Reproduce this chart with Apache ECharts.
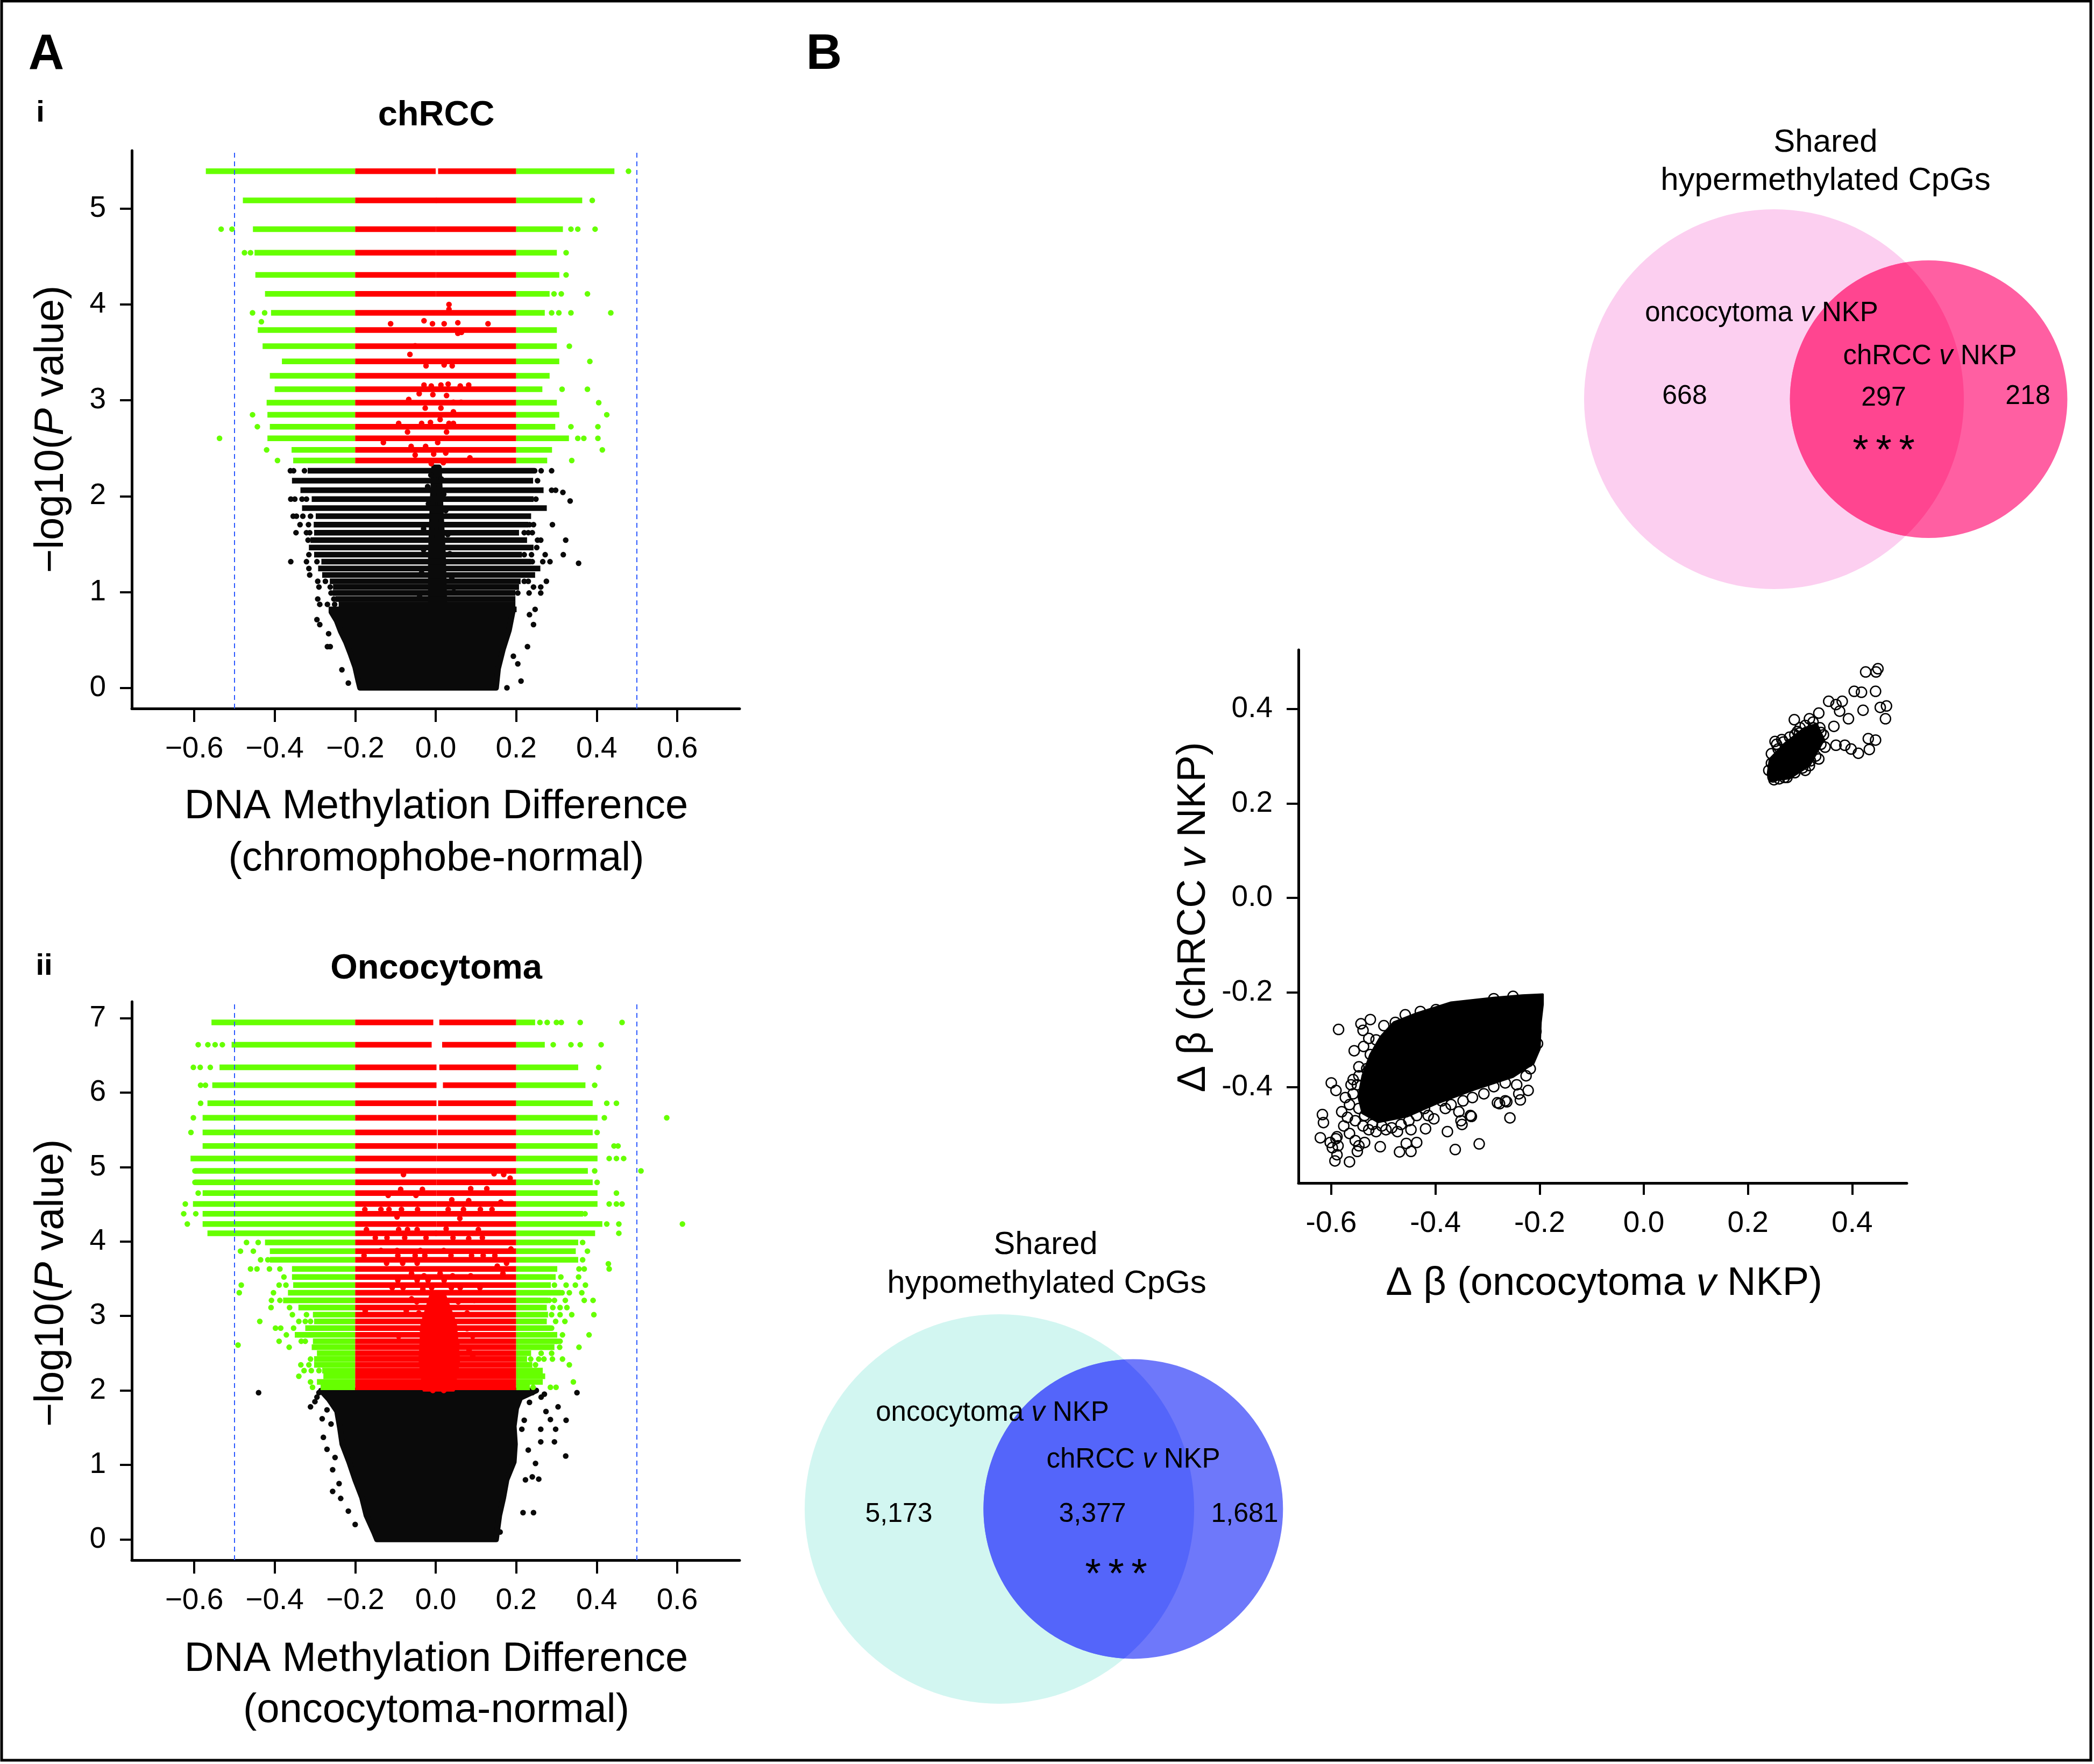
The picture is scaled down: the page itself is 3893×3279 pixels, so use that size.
<!DOCTYPE html>
<html><head><meta charset="utf-8">
<script src="https://cdn.jsdelivr.net/npm/echarts@6/dist/echarts.min.js"></script>
<style>html,body{margin:0;padding:0;background:#fff}#c{width:3893px;height:3279px}</style>
</head><body><div id="c"></div>
<script>
// ---------------- tick labels ----------------
const xTicksA = [-0.6, -0.4, -0.2, 0, 0.2, 0.4, 0.6];
const yTicksAi = [0, 1, 2, 3, 4, 5];
const yTicksAii = [0, 1, 2, 3, 4, 5, 6, 7];
const xTicksB = [-0.6, -0.4, -0.2, 0, 0.2, 0.4];
const yTicksB = [-0.4, -0.2, 0, 0.2, 0.4];
const dashedX = [-0.5, 0.5];
const cutoff = 0.2;

// ---------------- A(i) chRCC volcano ----------------
// [ -log10 P, leftmost x, rightmost x, centre gap start, centre gap end ]
const chrccBands = [
 [5.391,-0.564,0.437,-0.007,0.013],[5.087,-0.472,0.357,-0.005,0.008],[4.787,-0.447,0.309,-0.006,0.008],
 [4.541,-0.443,0.294,-0.006,0.008],[4.309,-0.441,0.300,-0.006,0.008],[4.111,-0.417,0.276,-0.006,0.008],
 [3.913,-0.402,0.264,null,null],[3.734,-0.435,0.294,null,null],[3.565,-0.423,0.294,null,null],
 [3.406,-0.375,0.300,null,null],[3.256,-0.405,0.276,null,null],[3.116,-0.393,0.258,null,null],
 [2.976,-0.413,0.294,null,null],[2.850,-0.411,0.300,null,null],[2.725,-0.405,0.290,null,null],
 [2.604,-0.411,0.324,null,null],[2.483,-0.351,0.282,null,null],[2.372,-0.347,0.270,null,null]
];
const chrccGreenOut = [[0.479,5.391],[0.389,5.087],[-0.533,4.787],[-0.506,4.787],[0.336,4.787],[0.353,4.787],[0.396,4.787],
 [-0.475,4.541],[-0.460,4.541],[0.324,4.541],[0.324,4.309],[0.294,4.111],[0.312,4.111],[0.377,4.111],[-0.455,3.913],
 [-0.425,3.913],[0.288,3.913],[0.306,3.913],[0.336,3.913],[0.435,3.913],[-0.433,3.82],[0.332,3.565],[0.383,3.406],
 [0.314,3.116],[0.377,3.116],[0.405,2.976],[-0.455,2.850],[0.425,2.850],[-0.443,2.725],[0.336,2.725],[0.403,2.725],
 [-0.537,2.604],[0.353,2.604],[0.368,2.604],[0.403,2.604],[-0.42,2.483],[0.414,2.483],[-0.393,2.372],[0.338,2.372]];
const chrccRedOut = [[0.033,4.00],[0.033,3.95],[-0.029,3.83],[-0.112,3.80],[-0.008,3.80],[0.021,3.80],[0.055,3.81],
 [0.130,3.80],[0.055,3.70],[0.064,3.71],[-0.064,3.48],[-0.051,3.57],[-0.024,3.36],[0.021,3.37],[0.041,3.36],
 [-0.029,3.16],[-0.011,3.15],[0.013,3.16],[0.031,3.17],[0.061,3.15],[0.082,3.16],[-0.067,3.01],[-0.041,3.07],
 [-0.007,3.06],[0.027,3.05],[0.044,2.98],[-0.026,2.92],[0.013,2.92],[0.044,2.88],[0.063,2.98],[-0.092,2.76],
 [-0.035,2.76],[-0.013,2.77],[0.011,2.80],[0.033,2.76],[0.044,2.76],[-0.07,2.67],[0.027,2.67],[-0.13,2.56],
 [-0.061,2.52],[-0.025,2.52],[0.005,2.56],[-0.051,2.43],[-0.005,2.44],[0.025,2.45],[0.085,2.40],[-0.011,2.34],[0.019,2.35]];
// [ -log10 P, leftmost x, rightmost x ]
const chrccBlackBands = [
 [2.265,-0.311,0.238],[2.162,-0.350,0.235],[2.062,-0.329,0.261],[1.969,-0.301,0.236],[1.875,-0.325,0.269],
 [1.791,-0.291,0.230],[1.703,-0.296,0.223],[1.619,-0.295,0.200],[1.541,-0.304,0.220],[1.464,-0.308,0.236],
 [1.389,-0.295,0.207],[1.316,-0.277,0.230],[1.245,-0.285,0.253],[1.178,-0.275,0.240],[1.112,-0.256,0.204],
 [1.052,-0.248,0.200],[0.989,-0.249,0.191],[0.927,-0.242,0.191],[0.871,-0.234,0.191],[0.819,-0.259,0.194]
];
const chrccBlackOut = [[-0.361,2.265],[-0.353,2.265],[-0.326,2.265],[0.246,2.265],[0.262,2.265],[0.288,2.265],[0.253,2.162],
 [0.288,2.062],[0.298,2.062],[0.316,2.04],[-0.360,1.969],[-0.350,1.969],[-0.332,1.969],[-0.321,1.969],[0.249,1.969],[0.334,1.95],
 [-0.354,1.791],[-0.346,1.791],[-0.330,1.791],[-0.311,1.791],[-0.337,1.703],[-0.316,1.703],[0.233,1.703],[0.243,1.703],[0.29,1.703],
 [-0.347,1.619],[-0.321,1.619],[-0.313,1.619],[0.22,1.619],[0.23,1.619],[0.24,1.619],[-0.317,1.541],[0.253,1.541],[0.261,1.541],
 [0.323,1.541],[0.251,1.464],[-0.315,1.389],[0.22,1.389],[0.238,1.389],[0.272,1.389],[0.317,1.389],[-0.36,1.316],[-0.321,1.316],
 [-0.295,1.316],[0.24,1.316],[0.266,1.316],[0.284,1.316],[0.355,1.30],[-0.315,1.245],[-0.313,1.178],[-0.293,1.112],[-0.274,1.112],
 [0.22,1.112],[0.23,1.112],[0.275,1.112],[-0.29,1.052],[-0.262,1.052],[0.243,1.052],[0.261,1.052],[-0.26,0.989],[0.204,0.989],
 [0.232,0.989],[0.261,0.989],[-0.293,0.927],[-0.253,0.927],[-0.288,0.871],[-0.269,0.871],[-0.251,0.871],[0.247,0.819],
 [-0.295,0.712],[-0.288,0.66],[-0.266,0.565],[-0.269,0.43],[-0.262,0.43],[-0.233,0.188],[-0.217,0.049],[0.228,0.43],
 [0.243,0.66],[0.233,0.763],[0.193,0.33],[0.204,0.25],[0.212,0.07],[0.177,0.0],
 [-0.012,2.22],[0.014,2.18],[-0.02,2.1],[0.02,2.02],[-0.018,1.92],[0.025,1.85],[-0.03,1.66],[0.03,1.6],[-0.03,1.44],
 [0.035,1.4],[-0.035,1.2],[0.04,1.15],[0.045,1.0],[-0.04,0.95]];
const chrccBlackCore = [[-0.259,0.79],[-0.246,0.70],[-0.236,0.59],[-0.223,0.478],[-0.211,0.347],[-0.2,0.216],
 [-0.192,0.067],[-0.188,0],[0.15,0],[0.155,0.2],[0.167,0.4],[0.182,0.6],[0.191,0.79]];
const chrccBlackSpine = [[-0.012,0.8],[-0.012,1.4],[-0.008,1.9],[-0.004,2.3],[0.008,2.3],[0.012,1.9],[0.018,1.4],[0.022,0.8]];

// ---------------- A(ii) Oncocytoma volcano ----------------
const oncoBands = [
 [6.942,-0.550,0.240,-0.013,0.016],[6.643,-0.500,0.264,-0.017,0.023],[6.338,-0.530,0.347,-0.005,0.016],
 [6.098,-0.548,0.365,-0.005,0.025],[5.857,-0.560,0.383,-0.005,0.013],[5.661,-0.572,0.395,-0.005,0.013],
 [5.465,-0.572,0.383,-0.004,0.012],[5.283,-0.572,0.395,-0.004,0.012],[5.115,-0.602,0.395,-0.005,0.009],
 [4.948,-0.590,0.371,-0.005,0.009],[4.795,-0.590,0.383,-0.005,0.009],[4.650,-0.572,0.395,-0.005,0.009],
 [4.504,-0.596,0.395,-0.005,0.009],[4.373,-0.572,0.359,-0.005,0.009],[4.235,-0.572,0.407,-0.005,0.009],
 [4.111,-0.560,0.389,-0.004,0.006],[3.988,-0.417,0.347,null,null],[3.871,-0.405,0.341,null,null],
 [3.755,-0.405,0.347,null,null],[3.632,-0.350,0.295,null,null],[3.524,-0.350,0.291,null,null],
 [3.415,-0.347,0.279,null,null],[3.312,-0.360,0.304,null,null],[3.210,-0.372,0.272,null,null],
 [3.114,-0.334,0.269,null,null],[3.018,-0.298,0.272,null,null],[2.927,-0.295,0.269,null,null],
 [2.837,-0.317,0.279,null,null],[2.746,-0.343,0.295,null,null],[2.661,-0.298,0.295,null,null],
 [2.580,-0.301,0.288,null,null],[2.500,-0.288,0.230,null,null],[2.421,-0.295,0.220,null,null],
 [2.344,-0.295,0.233,null,null],[2.266,-0.275,0.259,null,null],[2.191,-0.272,0.265,null,null],
 [2.114,-0.288,0.259,null,null],[2.042,-0.279,0.227,null,null]
];
const oncoGreenOut = [[0.259,6.942],[0.277,6.942],[0.300,6.942],[0.312,6.942],[0.359,6.942],[0.463,6.942],
 [-0.590,6.643],[-0.566,6.643],[-0.548,6.643],[-0.530,6.643],[0.292,6.643],[0.336,6.643],[0.359,6.643],[0.411,6.643],
 [-0.602,6.338],[-0.585,6.338],[-0.560,6.338],[0.405,6.338],[-0.584,6.098],[-0.572,6.098],[0.395,6.098],
 [-0.584,5.857],[0.425,5.857],[0.449,5.857],[-0.602,5.661],[0.419,5.661],[0.574,5.661],[-0.608,5.465],[0.401,5.465],
 [0.443,5.283],[0.453,5.283],[0.431,5.115],[0.449,5.115],[0.467,5.115],[-0.598,4.948],[0.395,4.948],[0.510,4.948],
 [-0.598,4.795],[0.401,4.795],[-0.590,4.650],[0.449,4.650],[-0.622,4.504],[0.431,4.504],[0.449,4.504],[0.463,4.504],
 [-0.626,4.373],[-0.596,4.373],[0.371,4.373],[-0.617,4.235],[0.425,4.235],[0.455,4.235],[0.613,4.235],[0.455,4.111],
 [-0.470,3.988],[-0.441,3.988],[0.365,3.988],[-0.485,3.871],[-0.453,3.871],[0.377,3.871],[-0.435,3.755],[-0.417,3.755],
 [0.365,3.755],[0.429,3.70],[-0.46,3.632],[-0.444,3.632],[-0.413,3.632],[-0.387,3.632],[0.356,3.632],[0.369,3.632],
 [0.431,3.632],[-0.377,3.524],[0.311,3.524],[0.355,3.524],[-0.483,3.415],[-0.389,3.415],[-0.372,3.415],[0.295,3.415],
 [0.324,3.415],[0.347,3.415],[0.372,3.415],[-0.488,3.312],[-0.403,3.312],[0.314,3.312],[0.332,3.312],[0.363,3.312],
 [-0.408,3.210],[-0.387,3.210],[0.282,3.210],[0.295,3.210],[0.322,3.210],[0.369,3.210],[0.391,3.210],[-0.409,3.114],
 [-0.363,3.114],[0.291,3.114],[0.309,3.114],[0.326,3.114],[-0.356,3.018],[-0.321,3.018],[0.288,3.018],[0.309,3.018],
 [0.338,3.018],[0.393,3.018],[-0.437,2.927],[-0.34,2.927],[-0.324,2.927],[-0.311,2.927],[0.298,2.927],[0.321,2.927],
 [-0.398,2.837],[-0.385,2.837],[-0.353,2.837],[0.288,2.837],[-0.371,2.746],[0.315,2.746],[0.381,2.746],[-0.389,2.661],
 [-0.334,2.661],[-0.324,2.661],[0.304,2.661],[0.309,2.661],[-0.491,2.61],[-0.364,2.580],[0.308,2.580],[0.356,2.580],
 [0.262,2.500],[0.288,2.500],[-0.311,2.421],[0.236,2.421],[0.256,2.421],[0.269,2.421],[0.29,2.421],[0.315,2.421],
 [-0.335,2.344],[-0.315,2.344],[0.248,2.344],[0.332,2.344],[-0.327,2.266],[-0.309,2.266],[-0.29,2.266],[-0.34,2.191],
 [-0.311,2.114],[0.342,2.114],[-0.306,2.042],[0.242,2.042],[0.285,2.042],[0.299,2.042]];
const oncoRedOut = [[-0.08,4.90],[0.145,4.91],[0.169,4.90],[0.185,4.85],[-0.087,4.70],[-0.033,4.70],[-0.118,4.62],
 [-0.049,4.62],[0.087,4.71],[0.127,4.71],[0.040,4.56],[0.082,4.55],[0.162,4.53],[-0.176,4.43],[-0.136,4.43],
 [-0.116,4.43],[-0.085,4.43],[-0.045,4.43],[0.031,4.43],[0.069,4.43],[0.111,4.43],[0.140,4.43],[-0.096,4.33],
 [0.060,4.31],[-0.172,4.16],[-0.092,4.16],[-0.07,4.16],[-0.046,4.16],[0.026,4.17],[0.106,4.16],[-0.15,4.05],
 [-0.121,4.05],[-0.077,4.05],[-0.024,4.05],[0.043,4.05],[0.082,4.04],[0.116,4.05],[-0.136,3.88],[-0.096,3.88],
 [-0.038,3.88],[0.020,3.88],[0.187,3.90],[-0.178,3.81],[-0.094,3.81],[-0.051,3.81],[-0.027,3.81],[0.038,3.81],
 [0.089,3.81],[0.118,3.81],[0.147,3.81],[-0.122,3.71],[-0.082,3.71],[-0.046,3.71],[0.153,3.67],[0.176,3.71],
 [-0.060,3.57],[-0.029,3.54],[0.011,3.57],[0.042,3.54],[0.087,3.54],[0.167,3.57],[-0.094,3.48],[-0.046,3.48],
 [-0.019,3.48],[0.021,3.48],[-0.108,3.38],[-0.081,3.38],[-0.032,3.36],[-0.010,3.38],[0.039,3.38],[0.061,3.38],
 [0.110,3.38],[-0.060,3.23],[-0.047,3.19],[-0.020,3.21],[0.029,3.21],[0.056,3.19],[0.096,3.21],[-0.175,3.07],
 [-0.073,3.07],[-0.042,3.04],[-0.007,3.07],[0.029,3.07],[0.078,3.04],[-0.037,2.83],[-0.015,2.87],[0.020,2.85],
 [0.038,2.80],[0.078,2.83],[0.092,2.73],[-0.092,2.73],[-0.029,2.61],[-0.007,2.61],[0.020,2.63],[0.056,2.59],
 [0.083,2.54],[-0.037,2.44],[0.003,2.46],[0.038,2.42],[0.092,2.46],[-0.033,2.27],[-0.007,2.25],[0.029,2.27],
 [0.056,2.25],[-0.020,2.10],[0.011,2.08],[0.038,2.10],[-0.007,2.00],[0.020,2.00]];
const oncoRedSpine = [[-0.03,2.0],[-0.04,2.4],[-0.035,2.9],[-0.012,3.3],[0.022,3.3],[0.05,2.9],[0.058,2.4],[0.045,2.0]];
const oncoBlackCore = [[-0.285,2.0],[-0.265,1.88],[-0.245,1.72],[-0.238,1.5],[-0.232,1.28],[-0.215,1.04],[-0.2,0.80],
 [-0.183,0.56],[-0.172,0.32],[-0.152,0.08],[-0.146,0],[0.15,0],[0.152,0.08],[0.158,0.32],[0.168,0.56],[0.176,0.80],
 [0.194,1.04],[0.197,1.28],[0.194,1.52],[0.2,1.76],[0.21,1.9],[0.25,2.0]];
const oncoBlackOut = [[-0.44,1.97],[0.351,1.97],[-0.311,1.78],[0.304,1.78],[0.324,1.6],[0.298,1.48],[0.295,1.31],
 [0.323,1.12],[0.261,1.31],[0.261,1.48],[-0.279,1.37],[-0.27,1.21],[-0.256,0.935],[-0.256,0.645],[-0.236,0.55],
 [-0.217,0.38],[0.243,0.36],[0.217,0.36],[0.256,0.81],[0.24,0.84],[0.248,1.02],[0.274,1.718],[0.285,1.61],[-0.295,1.91],
 [-0.282,1.62],[-0.27,1.74],[-0.26,1.55],[0.262,1.91],[0.233,1.84],[0.214,1.48],[0.223,0.80],[-0.29,1.97],[-0.3,1.85],
 [0.24,1.97],[0.27,1.95],[0.23,1.2],[0.22,1.6],[-0.25,1.1],[-0.24,0.75],[-0.2,0.2],[0.16,0.1]];

// ---------------- B scatter (Δβ oncocytoma v NKP, Δβ chRCC v NKP) ----------------
const hyperCore = [[0.238,0.262],[0.242,0.248],[0.28,0.253],[0.318,0.280],[0.346,0.335],[0.332,0.368],[0.308,0.359],[0.27,0.326],[0.242,0.294]];
const hyperPts = [[0.4496,0.4848],[0.446,0.478],[0.426,0.478],[0.404,0.437],[0.418,0.435],[0.445,0.437],[0.454,0.403],
 [0.466,0.406],[0.464,0.379],[0.421,0.397],[0.381,0.416],[0.355,0.416],[0.369,0.409],[0.393,0.379],[0.376,0.395],
 [0.431,0.337],[0.445,0.334],[0.433,0.314],[0.412,0.306],[0.398,0.315],[0.386,0.323],[0.369,0.323],[0.348,0.319],
 [0.336,0.294],[0.318,0.280],[0.289,0.377],[0.252,0.331],[0.336,0.391],[0.318,0.379],[0.299,0.349],[0.365,0.363],
 [0.245,0.305],[0.255,0.325],[0.265,0.335],[0.29,0.345],[0.30,0.36],[0.325,0.36],[0.34,0.35],[0.33,0.30],[0.31,0.27],
 [0.29,0.265],[0.27,0.255],[0.25,0.25],[0.24,0.27],[0.245,0.285],[0.258,0.315],[0.268,0.33],[0.28,0.34],[0.295,0.352],
 [0.31,0.365],[0.325,0.372],[0.338,0.36],[0.345,0.345],[0.34,0.325],[0.32,0.29],[0.305,0.275],[0.275,0.255],[0.26,0.252],[0.248,0.256]];
const hypoCore = [[-0.194,-0.204],[-0.194,-0.225],[-0.198,-0.263],[-0.200,-0.319],[-0.212,-0.350],[-0.251,-0.378],
 [-0.325,-0.405],[-0.399,-0.435],[-0.455,-0.462],[-0.51,-0.474],[-0.54,-0.455],[-0.548,-0.42],[-0.54,-0.376],
 [-0.525,-0.331],[-0.505,-0.293],[-0.48,-0.263],[-0.436,-0.244],[-0.370,-0.221],[-0.288,-0.211],[-0.233,-0.206]];
const hypoPts = [[-0.222,-0.346],[-0.218,-0.361],[-0.226,-0.376],[-0.222,-0.407],[-0.244,-0.395],[-0.266,-0.391],
 [-0.288,-0.399],[-0.307,-0.414],[-0.329,-0.422],[-0.347,-0.429],[-0.370,-0.437],[-0.388,-0.429],[-0.407,-0.422],
 [-0.421,-0.445],[-0.436,-0.460],[-0.451,-0.471],[-0.466,-0.479],[-0.484,-0.486],[-0.503,-0.482],[-0.521,-0.479],
 [-0.536,-0.460],[-0.547,-0.445],[-0.558,-0.414],[-0.550,-0.395],[-0.532,-0.361],[-0.525,-0.331],[-0.514,-0.300],
 [-0.499,-0.270],[-0.477,-0.263],[-0.458,-0.247],[-0.429,-0.240],[-0.399,-0.236],[-0.288,-0.213],[-0.251,-0.208],
 [-0.207,-0.282],[-0.204,-0.308],[-0.218,-0.338],[-0.240,-0.414],[-0.266,-0.429],[-0.281,-0.433],[-0.333,-0.460],
 [-0.355,-0.452],[-0.381,-0.445],[-0.403,-0.467],[-0.414,-0.460],[-0.447,-0.490],[-0.473,-0.494],[-0.495,-0.490],
 [-0.514,-0.494],[-0.528,-0.490],[-0.539,-0.482],[-0.554,-0.471],[-0.569,-0.464],[-0.576,-0.482],[-0.565,-0.498],
 [-0.554,-0.513],[-0.547,-0.524],[-0.580,-0.452],[-0.565,-0.437],[-0.573,-0.422],[-0.562,-0.395],[-0.547,-0.376],
 [-0.558,-0.384],[-0.591,-0.509],[-0.587,-0.524],
 [-0.586,-0.278],[-0.543,-0.266],[-0.525,-0.257],[-0.539,-0.280],[-0.528,-0.297],[-0.538,-0.314],[-0.556,-0.323],
 [-0.547,-0.357],[-0.600,-0.391],[-0.591,-0.407],[-0.617,-0.458],[-0.615,-0.475],[-0.621,-0.507],[-0.602,-0.517],
 [-0.589,-0.505],[-0.598,-0.528],[-0.589,-0.543],[-0.593,-0.556],[-0.565,-0.558],[-0.550,-0.536],[-0.536,-0.517],
 [-0.506,-0.526],[-0.469,-0.537],[-0.456,-0.519],[-0.447,-0.536],[-0.436,-0.517],[-0.419,-0.488],[-0.377,-0.494],
 [-0.362,-0.532],[-0.351,-0.471],[-0.349,-0.479],[-0.331,-0.462],[-0.316,-0.520],[-0.257,-0.465],[-0.263,-0.431],
 [-0.237,-0.427],[-0.277,-0.435]];

// ---------------- Venn counts: [oncocytoma only, shared, chRCC only] ----------------
const hyperCounts = [668, 297, 218];
const hypoCounts = [5173, 3377, 1681];

// ====================================================================
const FONT = "'Liberation Sans', Arial, Helvetica, sans-serif";
const GREEN = '#66FF00', RED = '#FF0000', BLACK = '#0A0A0A';
const DOT = 10.5;

function hseg(api, x1, x2, y, color, e1, e2) {
  const p1 = api.coord([x1, y]), p2 = api.coord([x2, y]);
  return {type:'line', shape:{x1:p1[0]-e1, y1:p1[1], x2:p2[0]+e2, y2:p2[1]},
          style:{stroke:color, lineWidth:DOT, lineCap:'butt'}};
}
function bandSeries(gi, rows) {
  return {type:'custom', xAxisIndex:gi, yAxisIndex:gi, clip:false, silent:true, data:rows, encode:{x:[1,2], y:0},
    renderItem(params, api) {
      const y = api.value(0), xL = api.value(1), xR = api.value(2), gL = api.value(3), gR = api.value(4);
      const r = DOT / 2, ch = [];
      ch.push(hseg(api, xL, -cutoff, y, GREEN, r, 0));
      if (isFinite(gL) && isFinite(gR)) {
        ch.push(hseg(api, -cutoff, gL, y, RED, 0, r));
        ch.push(hseg(api, gR, cutoff, y, RED, r, 0));
      } else ch.push(hseg(api, -cutoff, cutoff, y, RED, 0, 0));
      ch.push(hseg(api, cutoff, xR, y, GREEN, 0, r));
      return {type:'group', children:ch};
    }};
}
function blackBandSeries(gi, rows) {
  return {type:'custom', xAxisIndex:gi, yAxisIndex:gi, clip:false, silent:true, data:rows, encode:{x:[1,2], y:0},
    renderItem(params, api) {
      return hseg(api, api.value(1), api.value(2), api.value(0), BLACK, DOT/2, DOT/2);
    }};
}
function polySeries(gi, pts, color, sw) {
  return {type:'custom', xAxisIndex:gi, yAxisIndex:gi, clip:false, silent:true, data:pts, encode:{x:0, y:1},
    renderItem(params, api) {
      if (params.dataIndex !== 0) return null;
      return {type:'polygon', shape:{points:pts.map(p => api.coord(p))},
              style:{fill:color, stroke:color, lineWidth:sw, lineJoin:'round'}};
    }};
}
function dotSeries(gi, pts, color, extra) {
  return Object.assign({type:'scatter', xAxisIndex:gi, yAxisIndex:gi, data:pts, symbol:'circle', symbolSize:DOT,
    itemStyle:{color:color, opacity:1}, silent:true, clip:false, emphasis:{disabled:true}}, extra || {});
}
const dashMark = {markLine:{silent:true, symbol:['none','none'], label:{show:false}, emphasis:{disabled:true},
  lineStyle:{type:[9,7], color:'#2F5BFF', width:2, opacity:1}, data:dashedX.map(v => ({xAxis:v}))}};

const fmtA = v => (v < 0 ? '\u2212' : '') + Math.abs(v).toFixed(1);
const fmtInt = v => String(v);
const fmtB = v => v.toFixed(1);
function valAxis(gi, min, max, ticks, fmt, tickLen) {
  return {type:'value', gridIndex:gi, min:min, max:max,
    axisLine:{show:true, onZero:false, lineStyle:{color:'#000', width:5}},
    axisTick:{show:true, inside:false, length:tickLen, customValues:ticks, lineStyle:{color:'#000', width:4}},
    axisLabel:{show:true, customValues:ticks, formatter:fmt, margin:48, color:'#000', fontSize:55, fontFamily:FONT},
    splitLine:{show:false}, splitArea:{show:false}};
}

// ---------- Venn geometry (area proportional) ----------
function lens(r1, r2, d) {
  if (d >= r1 + r2) return 0;
  if (d <= Math.abs(r1 - r2)) return Math.PI * Math.min(r1, r2) ** 2;
  const a1 = Math.acos((d*d + r1*r1 - r2*r2) / (2*d*r1));
  const a2 = Math.acos((d*d + r2*r2 - r1*r1) / (2*d*r2));
  return r1*r1*a1 + r2*r2*a2 - 0.5*Math.sqrt((-d+r1+r2)*(d+r1-r2)*(d-r1+r2)*(d+r1+r2));
}
function venn(counts, cx, cy, rBig, cBig, cSmall, cOver) {
  const [a, ab, b] = counts;
  const unit = Math.PI * rBig * rBig / (a + ab);
  const rS = Math.sqrt((ab + b) * unit / Math.PI);
  const target = ab * unit;
  let lo = Math.abs(rBig - rS) + 1e-6, hi = rBig + rS;
  for (let i = 0; i < 80; i++) { const m = (lo + hi) / 2; if (lens(rBig, rS, m) > target) lo = m; else hi = m; }
  const d = (lo + hi) / 2, x2 = cx + d;
  const ax = (d*d + rBig*rBig - rS*rS) / (2*d), h = Math.sqrt(rBig*rBig - ax*ax), px = cx + ax;
  const pts = [];
  const f2 = Math.atan2(h, px - x2), f1 = Math.atan2(-h, px - x2) + 2*Math.PI;
  for (let i = 0; i <= 160; i++) { const t = f2 + (f1 - f2) * i / 160; pts.push([x2 + rS*Math.cos(t), cy + rS*Math.sin(t)]); }
  const g1 = Math.atan2(-h, px - cx), g2 = Math.atan2(h, px - cx);
  for (let i = 0; i <= 160; i++) { const t = g1 + (g2 - g1) * i / 160; pts.push([cx + rBig*Math.cos(t), cy + rBig*Math.sin(t)]); }
  return [
    {type:'circle', silent:true, shape:{cx:cx, cy:cy, r:rBig}, style:{fill:cBig}},
    {type:'circle', silent:true, shape:{cx:x2, cy:cy, r:rS}, style:{fill:cSmall}},
    {type:'polygon', silent:true, shape:{points:pts}, style:{fill:cOver}}
  ];
}

function T(x, y, text, size, o) {
  o = o || {};
  return {type:'text', x:x, y:y, rotation:o.rot || 0, silent:true,
    style:{text:text, fontSize:size, fontFamily:FONT, fontWeight:o.bold ? 'bold' : 'normal', fill:'#000',
           align:'center', verticalAlign:'middle'}};
}
function RT(x, y, parts, size, o) {
  o = o || {};
  const text = parts.map(p => '{' + (p[1] ? 'i' : 'n') + '|' + p[0] + '}').join('');
  return {type:'text', x:x, y:y, rotation:o.rot || 0, silent:true,
    style:{text:text, align:'center', verticalAlign:'middle',
      rich:{n:{fontSize:size, fontFamily:FONT, fill:'#000'},
            i:{fontSize:size, fontFamily:FONT, fontStyle:'italic', fill:'#000'}}}};
}
function stars(cx, cy) { return [-43, 0, 43].map(dx => T(cx + dx, cy + 18, '*', 76)); }
const nf = v => v.toLocaleString('en-US');

const graphicEls = [].concat(
  [{type:'rect', silent:true, shape:{x:3, y:2, width:3884, height:3270}, style:{fill:'none', stroke:'#000', lineWidth:5}}],
  venn(hyperCounts, 3298, 742, 353, '#FCCFF0', '#FF5FA2', '#FF4590'),
  venn(hypoCounts, 1858, 2805, 362, '#D2F6F1', '#6E78FA', '#5465FA'),
  [
    T(86, 103, 'A', 92, {bold:true}), T(75, 211, 'i', 56, {bold:true}), T(811, 215, 'chRCC', 65, {bold:true}),
    T(82, 1797, 'ii', 56, {bold:true}), T(811, 1801, 'Oncocytoma', 65, {bold:true}), T(1532, 103, 'B', 92, {bold:true}),
    RT(96, 798, [['\u2212log10(', 0], ['P', 1], [' value)', 0]], 76, {rot:Math.PI/2}),
    RT(96, 2385, [['\u2212log10(', 0], ['P', 1], [' value)', 0]], 76, {rot:Math.PI/2}),
    T(811, 1500, 'DNA Methylation Difference', 76), T(811, 1597, '(chromophobe-normal)', 76),
    T(811, 3085, 'DNA Methylation Difference', 76), T(811, 3180, '(oncocytoma-normal)', 76),
    RT(2982, 2387, [['\u0394 \u03B2 (oncocytoma ', 0], ['v', 1], [' NKP)', 0]], 74),
    RT(2220, 1705, [['\u0394 \u03B2 (chRCC ', 0], ['v', 1], [' NKP)', 0]], 74, {rot:Math.PI/2}),
    T(3394, 265, 'Shared', 60), T(3394, 336, 'hypermethylated CpGs', 60),
    RT(3275, 583, [['oncocytoma ', 0], ['v', 1], [' NKP', 0]], 51),
    RT(3588, 663, [['chRCC ', 0], ['v', 1], [' NKP', 0]], 51),
    T(3132, 737, nf(hyperCounts[0]), 50), T(3502, 740, nf(hyperCounts[1]), 50), T(3770, 737, nf(hyperCounts[2]), 50),
    T(1944, 2314, 'Shared', 60), T(1946, 2386, 'hypomethylated CpGs', 60),
    RT(1845, 2627, [['oncocytoma ', 0], ['v', 1], [' NKP', 0]], 51),
    RT(2107, 2714, [['chRCC ', 0], ['v', 1], [' NKP', 0]], 51),
    T(1671, 2815, nf(hypoCounts[0]), 50), T(2031, 2815, nf(hypoCounts[1]), 50), T(2314, 2815, nf(hypoCounts[2]), 50)
  ],
  stars(3502, 822),
  stars(2075, 2911)
);

const option = {
  animation:false, backgroundColor:'#fff',
  grid:[
    {left:245, top:280, width:1130, height:1037},
    {left:245, top:1862, width:1130, height:1038},
    {left:2414, top:1208, width:1131, height:991}
  ],
  xAxis:[
    valAxis(0, -0.755, 0.755, xTicksA, fmtA, 25),
    valAxis(1, -0.755, 0.755, xTicksA, fmtA, 25),
    valAxis(2, -0.663, 0.505, xTicksB, fmtB, 22)
  ],
  yAxis:[
    valAxis(0, -0.216, 5.606, yTicksAi, fmtInt, 22),
    valAxis(1, -0.278, 7.22, yTicksAii, fmtInt, 22),
    valAxis(2, -0.6027, 0.5247, yTicksB, fmtB, 22)
  ],
  graphic:graphicEls,
  series:[
    // A(i)
    polySeries(0, chrccBlackCore, BLACK, DOT),
    polySeries(0, chrccBlackSpine, BLACK, DOT),
    blackBandSeries(0, chrccBlackBands),
    dotSeries(0, chrccBlackOut, BLACK),
    bandSeries(0, chrccBands),
    dotSeries(0, chrccRedOut, RED),
    dotSeries(0, chrccGreenOut, GREEN, dashMark),
    // A(ii)
    polySeries(1, oncoBlackCore, BLACK, DOT),
    dotSeries(1, oncoBlackOut, BLACK),
    bandSeries(1, oncoBands),
    polySeries(1, oncoRedSpine, RED, 4),
    dotSeries(1, oncoRedOut, RED),
    dotSeries(1, oncoGreenOut, GREEN, dashMark),
    // B scatter
    polySeries(2, hyperCore, '#000', 4),
    polySeries(2, hypoCore, '#000', 4),
    {type:'scatter', xAxisIndex:2, yAxisIndex:2, data:hyperPts.concat(hypoPts), symbol:'circle', symbolSize:19,
     itemStyle:{color:'rgba(255,255,255,0)', borderColor:'#000', borderWidth:2.5, opacity:1}, silent:true, clip:false}
  ]
};
const chart = echarts.init(document.getElementById('c'), null, {renderer:'canvas'});
chart.setOption(option);
</script></body></html>
